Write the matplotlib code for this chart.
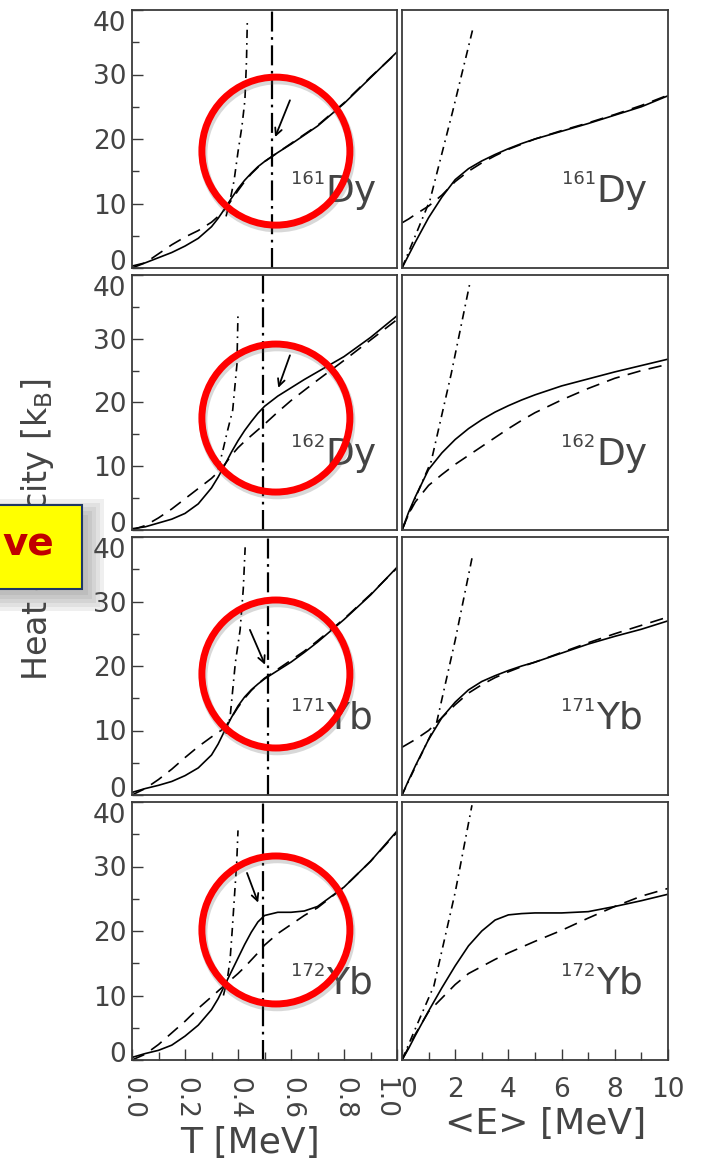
import matplotlib
matplotlib.use("Agg")
import matplotlib.pyplot as plt
from matplotlib.patches import Ellipse, Rectangle
from matplotlib.ticker import MultipleLocator
from matplotlib.transforms import ScaledTranslation

plt.rcParams['font.family'] = ['DejaVu Sans']

# nuclei shown in the four rows
MASS = ["161", "162", "171", "172"]
ELEMENT = ["Dy", "Dy", "Yb", "Yb"]

# heat capacity vs temperature T [MeV]
T_GRID = [0.0, 0.05, 0.1, 0.15, 0.2, 0.25, 0.3, 0.325, 0.35, 0.375, 0.4, 0.425,
          0.45, 0.475, 0.5, 0.55, 0.6, 0.65, 0.7, 0.8, 0.9, 1.0]
DY161_T_SOLID = [0.3, 0.8, 1.6, 2.4, 3.4, 4.6, 6.4, 7.7, 9.2, 10.8, 12.3, 13.6,
                 14.7, 15.7, 16.5, 17.9, 19.2, 20.6, 22.0, 25.5, 29.5, 33.5]
DY161_T_DASHED = [0.0, 0.8, 2.2, 3.6, 4.8, 5.8, 7.1, 8.0, 9.1, 10.5, 12.0, 13.4,
                  14.6, 15.6, 16.5, 17.9, 19.3, 20.7, 22.1, 25.6, 29.6, 33.4]
DY162_T_SOLID = [0.2, 0.5, 1.1, 1.7, 2.6, 4.1, 6.6, 8.3, 10.2, 12.2, 14.0, 15.6,
                 17.0, 18.3, 19.4, 21.0, 22.3, 23.6, 24.8, 27.2, 30.2, 33.6]
DY162_T_DASHED = [0.0, 0.7, 1.9, 3.3, 4.9, 6.5, 8.1, 9.1, 10.3, 11.7, 12.9, 13.9,
                  14.8, 15.7, 16.6, 18.5, 20.3, 21.9, 23.5, 26.6, 29.8, 33.0]
YB171_T_SOLID = [0.4, 1.0, 1.5, 2.1, 3.0, 4.2, 6.2, 7.9, 10.0, 12.0, 13.8, 15.2,
                 16.3, 17.2, 18.0, 19.3, 20.6, 22.1, 23.7, 27.2, 31.0, 35.3]
YB171_T_DASHED = [0.0, 1.0, 2.4, 4.0, 5.8, 7.5, 9.0, 9.7, 10.4, 12.0, 13.6, 15.0,
                  16.2, 17.2, 18.1, 19.5, 20.9, 22.3, 23.9, 27.3, 31.1, 35.2]
YB172_T_SOLID = [0.4, 1.0, 1.5, 2.3, 3.7, 5.4, 7.8, 9.5, 11.6, 13.7, 15.8, 17.9,
                 19.8, 21.4, 22.4, 22.9, 22.9, 23.1, 23.8, 26.8, 30.8, 35.5]
YB172_T_DASHED = [0.0, 0.9, 2.4, 4.2, 6.0, 8.0, 9.8, 10.7, 11.6, 12.5, 13.4, 14.4,
                  15.5, 16.6, 17.8, 19.6, 21.0, 22.4, 23.6, 26.8, 30.8, 35.3]

# steep low-temperature curves (dash-dot)
DY161_T_STEEP_X = [0.355, 0.37, 0.385, 0.40, 0.415, 0.426, 0.432, 0.435]
DY161_T_STEEP_Y = [8.0, 10.5, 13.5, 18.0, 22.0, 26.0, 32.0, 38.0]
DY162_T_STEEP_X = [0.325, 0.343, 0.36, 0.38, 0.396, 0.40]
DY162_T_STEEP_Y = [9.5, 12.5, 15.5, 18.8, 26.0, 34.0]
YB171_T_STEEP_X = [0.355, 0.37, 0.39, 0.408, 0.42, 0.427]
YB171_T_STEEP_Y = [9.5, 12.0, 20.5, 25.6, 32.0, 38.4]
YB172_T_STEEP_X = [0.345, 0.36, 0.37, 0.378, 0.386, 0.395, 0.40]
YB172_T_STEEP_Y = [10.0, 12.6, 15.5, 20.0, 25.0, 30.5, 35.6]

# critical temperatures (vertical dash-dot lines)
T_CRIT = [0.528, 0.494, 0.513, 0.495]

# arrows (tail -> head) in (T, C)
ARROW_TAIL = [(0.596, 26.0), (0.596, 27.4), (0.445, 25.6), (0.434, 29.0)]
ARROW_HEAD = [(0.54, 20.3), (0.552, 22.3), (0.502, 20.2), (0.476, 24.4)]

# heat capacity vs excitation energy <E> [MeV]
E_GRID = [0, 0.25, 0.5, 1, 1.5, 2, 2.5, 3, 3.5, 4, 4.5, 5, 6, 7, 8, 9, 10]
DY161_E_SOLID = [0, 2.0, 4.0, 7.8, 11.0, 13.7, 15.4, 16.6, 17.6, 18.5, 19.3, 20.0,
                 21.2, 22.4, 23.7, 25.0, 26.7]
DY161_E_DASHED = [7.0, 7.6, 8.3, 9.6, 11.3, 13.4, 15.0, 16.3, 17.4, 18.4, 19.2, 20.0,
                  21.3, 22.5, 23.8, 25.2, 26.8]
DY162_E_SOLID = [0, 2.8, 5.2, 9.5, 12.1, 14.2, 15.9, 17.3, 18.5, 19.5, 20.4, 21.2,
                 22.6, 23.7, 24.8, 25.8, 26.8]
DY162_E_DASHED = [0, 2.5, 4.4, 7.0, 8.7, 10.3, 11.7, 13.1, 14.5, 15.9, 17.2, 18.4,
                  20.4, 22.2, 23.8, 25.0, 26.0]
YB171_E_SOLID = [0, 2.3, 4.5, 8.6, 12.0, 14.4, 16.3, 17.6, 18.5, 19.3, 20.0, 20.6,
                 22.0, 23.4, 24.6, 25.7, 27.0]
YB171_E_DASHED = [7.4, 8.0, 8.6, 10.0, 12.0, 14.0, 15.8, 17.1, 18.2, 19.1, 19.9, 20.6,
                  22.1, 23.6, 25.0, 26.3, 27.6]
YB172_E_SOLID = [0, 1.8, 3.8, 7.6, 11.2, 14.6, 17.7, 20.0, 21.7, 22.5, 22.7, 22.8,
                 22.8, 23.0, 23.8, 24.7, 25.7]
YB172_E_DASHED = [0, 2.0, 4.0, 7.5, 9.6, 11.7, 13.4, 14.5, 15.6, 16.6, 17.5, 18.4,
                  20.1, 22.0, 23.8, 25.4, 26.6]

DY161_E_STEEP_X = [0, 0.5, 1.05, 1.9, 2.67]
DY161_E_STEEP_Y = [0, 5.0, 10.5, 24.2, 37.2]
DY162_E_STEEP_X = [0, 0.5, 1.1, 1.85, 2.56]
DY162_E_STEEP_Y = [0, 5.0, 10.8, 24.5, 38.9]
YB171_E_STEEP_X = [0, 0.6, 1.3, 2.0, 2.63]
YB171_E_STEEP_Y = [0, 5.2, 11.2, 24.0, 36.7]
YB172_E_STEEP_X = [0, 0.6, 1.2, 2.0, 2.63]
YB172_E_STEEP_Y = [0, 5.8, 11.5, 26.0, 39.5]

T_TICKS = [0.0, 0.2, 0.4, 0.6, 0.8, 1.0]
T_LABELS = ["0.0", "0.2", "0.4", "0.6", "0.8", "1.0"]
E_TICKS = [0, 2, 4, 6, 8, 10]
E_LABELS = ["0", "2", "4", "6", "8", "10"]
C_TICKS = [0, 10, 20, 30, 40]

T_SOLID = [DY161_T_SOLID, DY162_T_SOLID, YB171_T_SOLID, YB172_T_SOLID]
T_DASHED = [DY161_T_DASHED, DY162_T_DASHED, YB171_T_DASHED, YB172_T_DASHED]
T_STEEP = [(DY161_T_STEEP_X, DY161_T_STEEP_Y), (DY162_T_STEEP_X, DY162_T_STEEP_Y),
           (YB171_T_STEEP_X, YB171_T_STEEP_Y), (YB172_T_STEEP_X, YB172_T_STEEP_Y)]
E_SOLID = [DY161_E_SOLID, DY162_E_SOLID, YB171_E_SOLID, YB172_E_SOLID]
E_DASHED = [DY161_E_DASHED, DY162_E_DASHED, YB171_E_DASHED, YB172_E_DASHED]
E_STEEP = [(DY161_E_STEEP_X, DY161_E_STEEP_Y), (DY162_E_STEEP_X, DY162_E_STEEP_Y),
           (YB171_E_STEEP_X, YB171_E_STEEP_Y), (YB172_E_STEEP_X, YB172_E_STEEP_Y)]

GRAY = '#444444'
FRAME = '#3a3a3a'
W, H = 703, 1160

fig = plt.figure(figsize=(7.03, 11.6), dpi=100)


def box(x0, top, x1, bottom):
    # pixel box (from top-left) -> figure fraction
    return [x0 / W, 1 - bottom / H, (x1 - x0) / W, (bottom - top) / H]


def nudge(label, dx_px, dy_px=0):
    label.set_transform(label.get_transform()
                        + ScaledTranslation(dx_px / 100, dy_px / 100, fig.dpi_scale_trans))


ROWS = [(10, 268), (275, 530), (537, 795), (802, 1060)]
COLS = [(132, 397), (402, 668)]
CIRCLE_Y = [0.453, 0.439, 0.469, 0.504]

for i in range(4):
    top, bottom = ROWS[i]
    axl = fig.add_axes(box(COLS[0][0], top, COLS[0][1], bottom))
    axr = fig.add_axes(box(COLS[1][0], top, COLS[1][1], bottom))

    for ax in (axl, axr):
        ax.set_ylim(0, 40)
        for s in ax.spines.values():
            s.set_color(FRAME)
            s.set_linewidth(1.3)
        ax.tick_params(which='both', direction='in', color=FRAME, labelcolor=GRAY,
                       top=False, right=False)
        ax.annotate(ELEMENT[i], xy=(0.728, 0.295), xycoords='axes fraction',
                    xytext=(0.5, 0), textcoords='offset points',
                    ha='left', va='center', fontsize=27, color=GRAY)
        ax.annotate(MASS[i], xy=(0.728, 0.295), xycoords='axes fraction',
                    xytext=(0, 9.5), textcoords='offset points',
                    ha='right', va='center', fontsize=13, color=GRAY)

    # left: versus T
    axl.set_xlim(0, 1)
    axl.set_yticks(C_TICKS)
    axl.yaxis.set_minor_locator(MultipleLocator(5))
    axl.tick_params(axis='y', which='major', length=8, width=1, labelsize=19, pad=4)
    axl.tick_params(axis='y', which='minor', length=5, width=1)
    # lift the "0" and drop the "40" so neighbouring panels don't collide
    ylabels = axl.get_yticklabels()
    nudge(ylabels[0], 0, 8)
    nudge(ylabels[-1], 0, -11)

    axl.plot(T_GRID, T_SOLID[i], color='k', lw=1.2)
    axl.plot(T_GRID, T_DASHED[i], color='k', lw=1.2, dashes=(8, 5))
    axl.plot(T_STEEP[i][0], T_STEEP[i][1], color='k', lw=1.2, dashes=(5, 3, 1, 3))
    axl.axvline(T_CRIT[i], color='k', lw=1.6, dashes=(9, 2.5, 1.2, 2.5))
    axl.annotate('', xy=ARROW_HEAD[i], xytext=ARROW_TAIL[i],
                 arrowprops=dict(arrowstyle='->,head_length=0.5,head_width=0.25',
                                 color='k', lw=1.3, shrinkA=0, shrinkB=0))

    # right: versus <E>
    axr.set_xlim(0, 10)
    axr.set_yticks([])
    axr.plot(E_GRID, E_SOLID[i], color='k', lw=1.2)
    axr.plot(E_GRID, E_DASHED[i], color='k', lw=1.2, dashes=(8, 5))
    axr.plot(E_STEEP[i][0], E_STEEP[i][1], color='k', lw=1.2, dashes=(5, 3, 1, 3))

    if i < 3:
        axl.set_xticks([])
        axr.set_xticks([])
    else:
        axl.set_xticks(T_TICKS)
        axl.set_xticklabels(T_LABELS, rotation=270)
        axl.xaxis.set_minor_locator(MultipleLocator(0.1))
        axr.set_xticks(E_TICKS)
        axr.set_xticklabels(E_LABELS)
        axr.xaxis.set_minor_locator(MultipleLocator(1))
        for ax in (axl, axr):
            ax.tick_params(axis='x', which='major', length=8, width=1, labelsize=19, pad=12)
            ax.tick_params(axis='x', which='minor', length=6, width=1)
        # keep the neighbouring "1.0" and "0" apart
        nudge(axl.get_xticklabels()[-1], -13)
        nudge(axr.get_xticklabels()[0], 7)

    # red highlight circles
    wpx = COLS[0][1] - COLS[0][0]
    hpx = bottom - top
    cw, ch = 148 / wpx, 148 / hpx
    axl.add_patch(Ellipse((0.548, CIRCLE_Y[i] - 0.012), cw, ch, transform=axl.transAxes,
                          fill=False, ec='0.4', lw=6, alpha=0.25, clip_on=False, zorder=9))
    axl.add_patch(Ellipse((0.543, CIRCLE_Y[i]), cw, ch, transform=axl.transAxes,
                          fill=False, ec='#ff0000', lw=5, clip_on=False, zorder=10))

# axis titles
fig.text(38 / W, 1 - 529 / H, 'Heat capacity [k$_{\\rm B}$]', rotation=90,
         ha='center', va='center', fontsize=24, color=GRAY, zorder=2)
fig.text(250 / W, 1 - 1143 / H, 'T [MeV]', ha='center', va='center',
         fontsize=26, color=GRAY)
fig.text(546 / W, 1 - 1124 / H, '<E> [MeV]', ha='center', va='center',
         fontsize=26, color=GRAY)

# yellow callout box with soft shadow
for d in [22, 18, 14, 10, 6]:
    fig.add_artist(Rectangle(((-10) / W, 1 - (589 + d) / H), (92 + d) / W, (74 + 2 * d - 6) / H,
                             transform=fig.transFigure, fc='#555555', ec='none',
                             alpha=0.09, zorder=1))
fig.add_artist(Rectangle((-5 / W, 1 - 589 / H), 87 / W, 84 / H, transform=fig.transFigure,
                         fc='#ffff00', ec='#1f3864', lw=1.5, zorder=5))
fig.text(54 / W, 1 - 545 / H, 've', ha='right', va='center', fontsize=28,
         fontweight='bold', color='#c00000', zorder=6)

fig.savefig('out.png', dpi=100)
